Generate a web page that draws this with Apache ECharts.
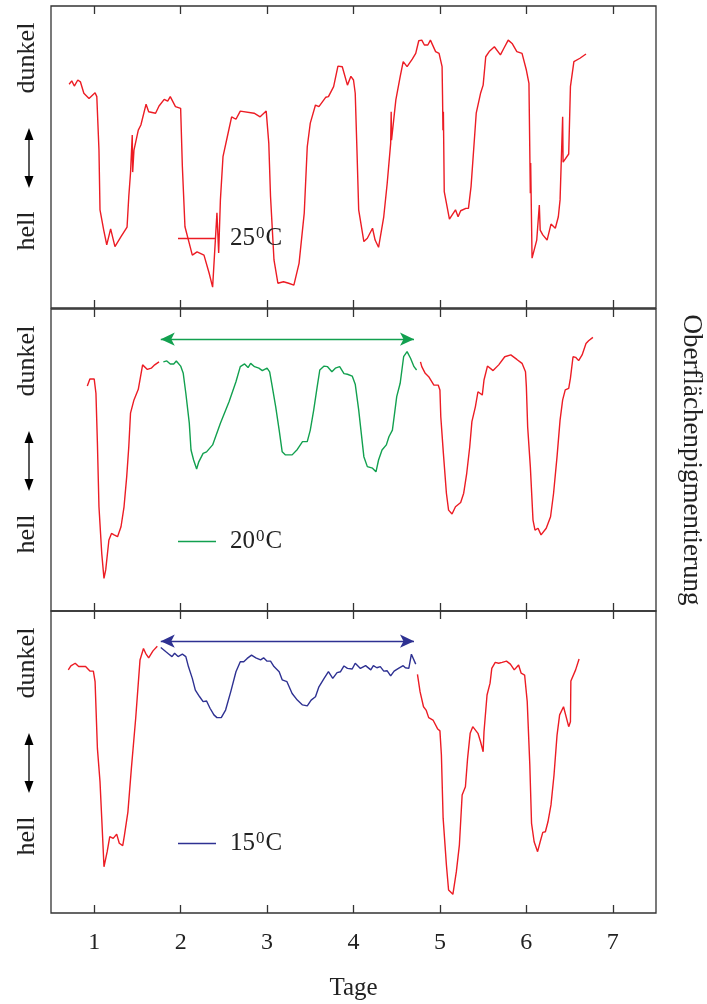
<!DOCTYPE html>
<html>
<head>
<meta charset="utf-8">
<script src="https://cdn.jsdelivr.net/npm/echarts@6/dist/echarts.min.js"></script>
<style>
  html, body { margin: 0; padding: 0; background: #fff; }
  #main { width: 707px; height: 1004px; }
</style>
</head>
<body>
<div id="main"></div>
<script>
// Tage (x) gegen relative Pigmentierung 0 (hell) .. 100 (dunkel)
var dayTicks = [1, 2, 3, 4, 5, 6, 7];

var red25 = [[0.71,74.1],[0.74,75.2],[0.77,73.5],[0.81,75.5],[0.84,74.9],[0.88,71.1],[0.94,69.4],[1.01,71.3],[1.03,70.0],[1.055,52.3],[1.067,32.5],[1.11,25.8],[1.145,20.9],[1.19,26.2],[1.24,20.3],[1.31,23.6],[1.38,26.8],[1.40,36.9],[1.42,44.7],[1.44,57.3],[1.445,45],[1.46,52.3],[1.51,58.9],[1.54,60.6],[1.60,67.5],[1.63,65.0],[1.71,64.5],[1.75,66.9],[1.81,69.1],[1.85,68.5],[1.88,70.0],[1.94,66.7],[2.00,66.1],[2.02,46.8],[2.05,26.9],[2.10,21.4],[2.135,17.5],[2.19,18.6],[2.27,17.5],[2.33,11.5],[2.37,6.9],[2.39,6.9],[2.42,31.5],[2.44,18.2],[2.46,35.8],[2.49,50.1],[2.54,56.7],[2.59,63.3],[2.64,62.5],[2.69,65.2],[2.85,64.5],[2.92,63.3],[2.99,65.2],[3.02,54.5],[3.04,36.9],[3.08,15.9],[3.125,8.2],[3.19,8.7],[3.25,8.2],[3.31,7.6],[3.37,14.8],[3.43,31.4],[3.465,53.4],[3.50,61.2],[3.56,67.2],[3.60,66.7],[3.68,69.8],[3.71,70.0],[3.77,73.3],[3.82,80.1],[3.87,79.9],[3.89,79.4],[3.93,73.8],[3.97,76.7],[4.00,75.5],[4.02,71.1],[4.04,52.3],[4.06,32.5],[4.12,22.0],[4.16,23.1],[4.22,26.4],[4.25,22.5],[4.29,20.1],[4.35,30.2],[4.39,41.3],[4.43,54.5],[4.436,65.0],[4.44,55.6],[4.49,68.9],[4.54,76.6],[4.575,81.6],[4.62,79.9],[4.68,82.4],[4.72,84.3],[4.755,88.5],[4.79,88.7],[4.82,87.1],[4.86,87.1],[4.89,88.7],[4.95,84.9],[4.99,84.3],[5.025,79.9],[5.03,70.5],[5.035,58.9],[5.04,65],[5.05,38.5],[5.11,29.4],[5.18,32.5],[5.21,30.2],[5.24,32.2],[5.30,33.0],[5.33,33.0],[5.36,40.2],[5.39,52.3],[5.42,64.5],[5.47,71.1],[5.50,73.8],[5.53,83.2],[5.57,84.9],[5.63,86.5],[5.70,83.8],[5.74,86.0],[5.79,88.7],[5.835,87.6],[5.89,84.9],[5.95,84.3],[6.00,78.8],[6.03,74.4],[6.046,38.0],[6.05,48],[6.066,16.5],[6.12,22.5],[6.15,34.1],[6.16,25.8],[6.19,24.2],[6.24,22.5],[6.285,27.8],[6.335,26.4],[6.37,30.2],[6.39,35.8],[6.42,63.3],[6.425,48.3],[6.49,51.0],[6.51,73.3],[6.55,81.6],[6.62,82.7],[6.69,84.1]];

var red20a = [[0.92,74.5],[0.95,76.8],[1.00,76.8],[1.02,72.1],[1.037,55.5],[1.055,34.5],[1.087,19.1],[1.113,10.8],[1.133,13.6],[1.17,23.5],[1.20,25.7],[1.23,25.2],[1.27,24.6],[1.31,27.9],[1.345,34.5],[1.376,44.5],[1.40,54.4],[1.42,65.5],[1.46,69.9],[1.51,73.4],[1.56,81.5],[1.615,80.0],[1.66,80.4],[1.70,81.5],[1.75,82.5]];
var green20 = [[1.80,82.5],[1.84,82.8],[1.88,81.8],[1.92,81.8],[1.95,82.8],[2.00,81.1],[2.03,78.7],[2.06,72.1],[2.10,62.2],[2.12,53.3],[2.15,50.0],[2.185,47.0],[2.21,49.4],[2.26,52.2],[2.30,52.7],[2.37,55.0],[2.46,62.2],[2.56,69.3],[2.64,75.9],[2.69,80.9],[2.74,81.8],[2.78,80.6],[2.81,82.0],[2.855,80.9],[2.905,80.4],[2.945,79.6],[3.00,80.4],[3.03,79.2],[3.06,74.3],[3.10,67.6],[3.14,59.9],[3.175,52.7],[3.21,51.7],[3.29,51.7],[3.35,53.5],[3.41,56.1],[3.465,56.1],[3.50,59.9],[3.54,66.6],[3.58,74.3],[3.61,79.8],[3.66,81.1],[3.70,80.9],[3.75,79.2],[3.79,80.4],[3.84,80.9],[3.89,78.6],[3.93,78.4],[3.985,77.8],[4.02,75.1],[4.06,66.6],[4.09,58.8],[4.12,51.1],[4.16,47.8],[4.22,47.3],[4.26,46.1],[4.29,50.0],[4.33,53.3],[4.38,55.0],[4.41,57.7],[4.45,59.9],[4.47,64.3],[4.50,71.0],[4.54,75.4],[4.58,84.2],[4.62,85.9],[4.66,83.7],[4.70,80.9],[4.73,79.8]];
var red20b = [[4.775,82.5],[4.79,80.9],[4.83,78.7],[4.87,77.6],[4.93,74.8],[4.98,74.8],[5.00,73.2],[5.01,64.3],[5.04,52.2],[5.075,39.0],[5.10,33.4],[5.14,32.1],[5.18,34.5],[5.24,35.9],[5.275,39.0],[5.31,45.6],[5.345,54.4],[5.37,62.7],[5.41,67.6],[5.44,72.6],[5.46,72.1],[5.49,71.5],[5.51,76.5],[5.55,81.1],[5.615,79.6],[5.68,81.5],[5.75,84.2],[5.82,84.8],[5.89,83.3],[5.95,82.0],[5.99,79.2],[6.00,74.3],[6.015,61.0],[6.046,47.8],[6.077,30.1],[6.10,26.8],[6.135,27.4],[6.17,25.2],[6.23,27.4],[6.28,31.2],[6.315,39.0],[6.355,51.1],[6.39,63.2],[6.42,69.9],[6.45,73.2],[6.49,73.7],[6.51,77.1],[6.54,84.2],[6.57,84.0],[6.605,82.9],[6.645,84.8],[6.69,88.6],[6.72,89.5],[6.77,90.6]];

var red15a = [[0.70,80.5],[0.73,81.8],[0.78,82.7],[0.82,81.6],[0.90,81.6],[0.95,80.1],[0.99,80.1],[1.01,76.6],[1.037,54.5],[1.067,43.5],[1.087,31.4],[1.113,15.3],[1.15,20.3],[1.18,25.3],[1.22,24.7],[1.26,26.1],[1.29,23.1],[1.33,22.3],[1.35,25.8],[1.39,33.5],[1.43,47.9],[1.48,64.5],[1.53,83.8],[1.57,87.6],[1.595,86.0],[1.63,84.5],[1.68,86.8],[1.73,88.3]];
var blue15 = [[1.77,87.9],[1.83,86.5],[1.865,85.7],[1.90,84.9],[1.93,86.0],[1.97,84.9],[2.02,85.7],[2.06,84.9],[2.09,81.6],[2.135,77.7],[2.17,73.8],[2.22,71.6],[2.26,70.0],[2.30,70.2],[2.34,67.8],[2.385,65.6],[2.42,64.7],[2.47,64.7],[2.52,67.2],[2.58,73.3],[2.64,79.9],[2.69,83.2],[2.73,83.2],[2.77,84.3],[2.82,85.4],[2.87,84.5],[2.925,83.8],[2.96,84.5],[3.00,83.4],[3.04,83.4],[3.08,81.6],[3.14,79.9],[3.175,77.2],[3.23,76.6],[3.29,72.7],[3.35,70.5],[3.41,68.9],[3.465,68.6],[3.51,70.5],[3.56,71.6],[3.60,74.9],[3.66,77.7],[3.71,79.9],[3.76,77.7],[3.81,79.6],[3.85,79.9],[3.89,81.8],[3.93,81.0],[3.985,80.8],[4.02,82.7],[4.08,81.0],[4.14,81.9],[4.20,80.5],[4.23,81.9],[4.27,81.2],[4.31,81.6],[4.35,80.1],[4.39,80.2],[4.43,78.5],[4.47,80.1],[4.52,81.0],[4.575,81.9],[4.60,81.2],[4.64,81.0],[4.67,85.7],[4.69,85.7],[4.72,82.4]];
var red15b = [[4.74,79.0],[4.77,73.3],[4.81,68.3],[4.84,67.2],[4.87,64.7],[4.92,63.9],[4.975,60.9],[5.00,60.3],[5.017,52.3],[5.037,31.4],[5.075,15.9],[5.10,7.6],[5.15,6.2],[5.19,13.7],[5.225,22.5],[5.257,39.1],[5.295,41.8],[5.32,51.2],[5.35,59.5],[5.38,61.7],[5.40,62.3],[5.44,59.5],[5.47,56.7],[5.50,53.4],[5.51,60.0],[5.545,72.2],[5.58,76.1],[5.60,81.0],[5.64,83.0],[5.68,82.7],[5.72,83.0],[5.77,83.4],[5.815,82.4],[5.86,80.5],[5.91,82.1],[5.94,79.4],[5.98,78.8],[6.01,70.0],[6.04,49.0],[6.06,29.7],[6.09,23.6],[6.13,20.3],[6.16,23.6],[6.19,26.7],[6.22,26.9],[6.25,30.2],[6.285,35.8],[6.32,45.7],[6.355,58.9],[6.385,65.6],[6.43,68.3],[6.49,61.7],[6.51,63.3],[6.515,76.8],[6.57,80.5],[6.61,84.1]];

// Zeitraum der Temperaturabsenkung (Pfeil) und Pfeilhoehe
var shiftSpan = [1.77, 4.70];
var shiftLevel = 90;
var tempLabels = ['25', '20', '15'];

var RED = '#ec1c24', GREEN = '#12a04f', BLUE = '#2e3192';
var FONT = '"Liberation Serif", "DejaVu Serif", serif';
var gridTops = [6, 309, 611];
var gridH = 302;

var chart = echarts.init(document.getElementById('main'), null, { renderer: 'canvas' });

function lineSeries(name, data, color, idx, extra) {
  var s = {
    name: name,
    type: 'line',
    xAxisIndex: idx * 2,
    yAxisIndex: idx,
    data: data,
    showSymbol: false,
    symbol: 'none',
    lineStyle: { color: color, width: 1.4 },
    itemStyle: { color: color },
    animation: false,
    silent: true
  };
  return Object.assign(s, extra || {});
}

function arrowLine(color) {
  return {
    markLine: {
      silent: true,
      symbol: ['arrow', 'arrow'],
      symbolSize: [10, 14],
      label: { show: false },
      lineStyle: { color: color, type: 'solid', width: 1.3 },
      data: [[{ coord: [shiftSpan[0], shiftLevel] }, { coord: [shiftSpan[1], shiftLevel] }]]
    }
  };
}

var grids = [], xAxes = [], yAxes = [], legends = [], graphics = [];
gridTops.forEach(function (top, i) {
  grids.push({ left: 51, right: 51, top: top, height: gridH, show: true,
    borderColor: '#333', borderWidth: 1.3, backgroundColor: 'transparent' });
  var tick = { show: true, inside: true, length: 8, customValues: dayTicks,
    lineStyle: { color: '#333', width: 1.3 } };
  xAxes.push({
    gridIndex: i, type: 'value', min: 0.5, max: 7.5,
    axisLine: { show: false }, axisTick: tick, splitLine: { show: false },
    axisLabel: { show: i === 2, customValues: dayTicks, margin: 18,
      fontFamily: FONT, fontSize: 24, color: '#222' },
    name: i === 2 ? 'Tage' : '', nameLocation: 'middle', nameGap: 63,
    nameTextStyle: { fontFamily: FONT, fontSize: 25, color: '#222' }
  });
  xAxes.push({
    gridIndex: i, type: 'value', min: 0.5, max: 7.5, position: 'top',
    axisLine: { show: false }, axisTick: tick, splitLine: { show: false },
    axisLabel: { show: false }
  });
  yAxes.push({ gridIndex: i, type: 'value', min: 0, max: 100,
    axisLine: { show: false }, axisTick: { show: false },
    axisLabel: { show: false }, splitLine: { show: false } });

  legends.push({
    data: ['t' + tempLabels[i]],
    left: 173, top: top + 214,
    icon: 'rect', itemWidth: 38, itemHeight: 1.5,
    selectedMode: false,
    formatter: function (n) { return '{n|' + n.slice(1) + '}{s|0}{n|C}'; },
    textStyle: {
      padding: [0, 0, 0, 9],
      rich: {
        n: { fontFamily: FONT, fontSize: 25, color: '#222' },
        s: { fontFamily: FONT, fontSize: 17, color: '#222', verticalAlign: 'top', padding: [0, 1, 10, 1] }
      }
    }
  });

  // linke Skala: dunkel <-> hell
  graphics.push(
    { type: 'text', x: 27, y: top + 52, rotation: Math.PI / 2,
      style: { text: 'dunkel', font: '26px ' + FONT, fill: '#222', align: 'center', verticalAlign: 'middle' } },
    { type: 'text', x: 27, y: top + 225, rotation: Math.PI / 2,
      style: { text: 'hell', font: '26px ' + FONT, fill: '#222', align: 'center', verticalAlign: 'middle' } },
    { type: 'line', shape: { x1: 29, y1: top + 130, x2: 29, y2: top + 174 },
      style: { stroke: '#000', lineWidth: 1.3 } },
    { type: 'polygon', shape: { points: [[29, top + 122], [24.5, top + 134], [33.5, top + 134]] },
      style: { fill: '#000' } },
    { type: 'polygon', shape: { points: [[29, top + 182], [24.5, top + 170], [33.5, top + 170]] },
      style: { fill: '#000' } }
  );
});

graphics.push({ type: 'text', x: 691, y: 460, rotation: -Math.PI / 2,
  style: { text: 'Oberflächenpigmentierung', font: '27px ' + FONT, fill: '#222',
    align: 'center', verticalAlign: 'middle' } });

var option = {
  backgroundColor: '#ffffff',
  grid: grids,
  xAxis: xAxes,
  yAxis: yAxes,
  legend: legends,
  graphic: graphics,
  series: [
    lineSeries('t25', red25, RED, 0),
    lineSeries('r20', red20a, RED, 1),
    lineSeries('t20', green20, GREEN, 1, arrowLine(GREEN)),
    lineSeries('r20', red20b, RED, 1),
    lineSeries('r15', red15a, RED, 2),
    lineSeries('t15', blue15, BLUE, 2, arrowLine(BLUE)),
    lineSeries('r15', red15b, RED, 2)
  ]
};

chart.setOption(option);
</script>
</body>
</html>
